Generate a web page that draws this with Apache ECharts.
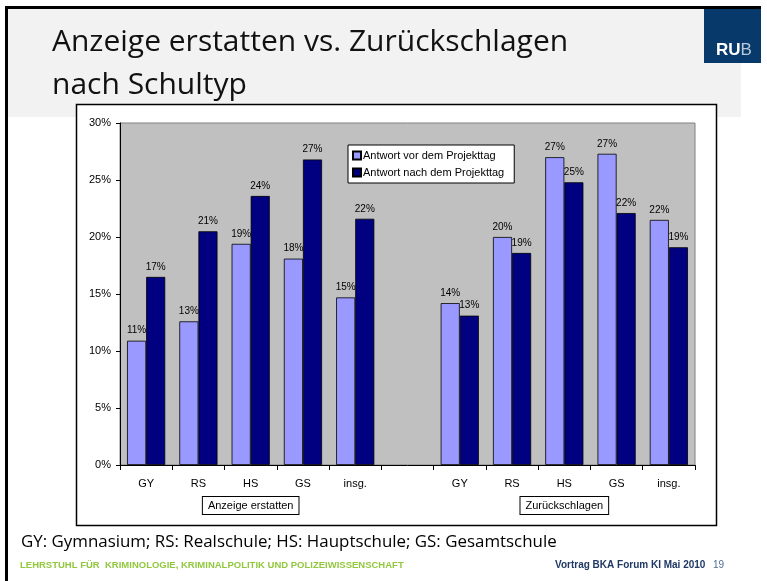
<!DOCTYPE html>
<html>
<head>
    <meta charset="UTF-8">
    <title>Anzeige erstatten vs. Zurückschlagen</title>
    <script src="https://cdn.jsdelivr.net/npm/echarts@6/dist/echarts.min.js"></script>
    <style>
        html, body { margin: 0; padding: 0; background: #fff; }
        #chart { width: 767px; height: 581px; }
    </style>
</head>
<body>
<div id="chart"></div>
<script>
    // Schultypen je Gruppe
    var schultypen = ["GY", "RS", "HS", "GS", "insg."];
    var gruppen = ["Anzeige erstatten", "Zurückschlagen"];
    var serienNamen = ["Antwort vor dem Projekttag", "Antwort nach dem Projekttag"];

    // Werte in Prozent
    var anzeigeVor = [10.9, 12.6, 19.4, 18.1, 14.7];
    var anzeigeNach = [16.5, 20.5, 23.6, 26.8, 21.6];
    var zurueckVor = [14.2, 20.0, 27.0, 27.3, 21.5];
    var zurueckNach = [13.1, 18.6, 24.8, 22.1, 19.1];

    var yTicks = [0, 5, 10, 15, 20, 25, 30];

    // eine leere Kategorie trennt die beiden Gruppen
    var kategorien = schultypen.concat([""], schultypen);
    var gruppenAchse = kategorien.map(function (c, i) {
        if (i === 2) return gruppen[0];
        if (i === 8) return gruppen[1];
        return "";
    });
    var vorDaten = anzeigeVor.concat(["-"], zurueckVor);
    var nachDaten = anzeigeNach.concat(["-"], zurueckNach);

    var arial = "Liberation Sans";
    var folienSchrift = "Open Sans";
    var chart = echarts.init(document.getElementById('chart'), null, {renderer: 'canvas'});

    var valueLabel = {
        show: true,
        position: 'top',
        distance: 5,
        fontFamily: arial,
        fontSize: 10,
        color: '#000',
        formatter: function (p) { return Math.round(p.value) + '%'; }
    };

    chart.setOption({
        animation: false,
        backgroundColor: '#fff',
        graphic: [
            // Folienrahmen und Kopfzeile
            {type: 'rect', z: -20, shape: {x: 8, y: 9, width: 733, height: 108}, style: {fill: '#f2f2f2'}},
            {type: 'rect', z: -19, shape: {x: 5, y: 6, width: 756, height: 3}, style: {fill: '#000'}},
            {type: 'rect', z: -19, shape: {x: 5, y: 6, width: 3, height: 575}, style: {fill: '#000'}},
            {type: 'rect', z: -18, shape: {x: 704, y: 9, width: 57, height: 54}, style: {fill: '#073a6b'}},
            {type: 'text', z: -17, x: 734, y: 42, style: {
                rich: {a: {fill: '#fff', fontWeight: 'bold', fontSize: 17, fontFamily: arial},
                       b: {fill: '#b8c8da', fontSize: 17, fontFamily: arial}},
                text: '{a|RU}{b|B}', align: 'center'}},
            {type: 'text', z: -17, x: 52, y: 21, style: {
                text: 'Anzeige erstatten vs. Zurückschlagen\nnach Schultyp',
                fill: '#111', fontSize: 30, fontFamily: folienSchrift, lineHeight: 43}},
            // weisser Diagrammkasten
            {type: 'rect', z: -10, shape: {x: 76.5, y: 104.5, width: 640, height: 421},
                style: {fill: '#fff', stroke: '#000', lineWidth: 1.5}},
            // Fusszeilen
            {type: 'text', x: 21, y: 534, style: {
                text: 'GY: Gymnasium; RS: Realschule; HS: Hauptschule; GS: Gesamtschule',
                fill: '#000', fontSize: 16.9, fontFamily: folienSchrift}},
            {type: 'text', x: 20, y: 560, style: {
                text: 'LEHRSTUHL FÜR  KRIMINOLOGIE, KRIMINALPOLITIK UND POLIZEIWISSENSCHAFT',
                fill: '#92c83e', fontSize: 9.5, fontWeight: 'bold', fontFamily: arial}},
            {type: 'text', x: 555, y: 560, style: {
                text: 'Vortrag BKA Forum KI Mai 2010',
                fill: '#1f3864', fontSize: 10, fontWeight: 'bold', fontFamily: arial}},
            {type: 'text', x: 713, y: 560, style: {
                text: '19', fill: '#4f6f8f', fontSize: 10, fontFamily: arial}}
        ],
        legend: {
            data: serienNamen,
            orient: 'vertical',
            left: 348,
            top: 145,
            padding: [5, 10, 5, 4],
            itemGap: 6,
            itemWidth: 8,
            itemHeight: 8,
            icon: 'rect',
            backgroundColor: '#fff',
            borderColor: '#000',
            borderWidth: 1,
            borderRadius: 0,
            textStyle: {fontFamily: arial, fontSize: 11, color: '#000', padding: [0, 0, 0, -3]}
        },
        grid: {
            left: 120,
            right: 72,
            top: 123,
            bottom: 116,
            show: true,
            backgroundColor: '#c0c0c0',
            borderColor: '#808080',
            borderWidth: 1
        },
        xAxis: [{
            type: 'category',
            data: kategorien,
            axisLine: {lineStyle: {color: '#000', width: 1}},
            axisTick: {show: true, interval: 0, length: 5, lineStyle: {color: '#000'}},
            axisLabel: {interval: 0, margin: 13, fontFamily: arial, fontSize: 11, color: '#000'}
        }, {
            type: 'category',
            data: gruppenAchse,
            position: 'bottom',
            offset: 27,
            axisLine: {show: false},
            axisTick: {show: false},
            axisLabel: {
                interval: function (i) { return i === 2 || i === 8; },
                margin: 5,
                fontFamily: arial,
                fontSize: 11,
                color: '#000',
                backgroundColor: '#fff',
                borderColor: '#000',
                borderWidth: 1,
                padding: [3, 5, 3, 5]
            }
        }],
        yAxis: {
            type: 'value',
            min: yTicks[0],
            max: yTicks[yTicks.length - 1],
            interval: 5,
            splitLine: {show: false},
            axisLine: {show: true, lineStyle: {color: '#000', width: 1}},
            axisTick: {show: true, length: 4, lineStyle: {color: '#000'}},
            axisLabel: {
                margin: 9,
                fontFamily: arial,
                fontSize: 11,
                color: '#000',
                formatter: '{value}%'
            }
        },
        series: [{
            name: serienNamen[0],
            type: 'bar',
            data: vorDaten,
            barGap: '0%',
            barCategoryGap: '27%',
            itemStyle: {color: '#9999ff', borderColor: '#000', borderWidth: 0.8},
            label: valueLabel
        }, {
            name: serienNamen[1],
            type: 'bar',
            data: nachDaten,
            itemStyle: {color: '#000080', borderColor: '#000', borderWidth: 0.8},
            label: valueLabel
        }]
    });
</script>
</body>
</html>
